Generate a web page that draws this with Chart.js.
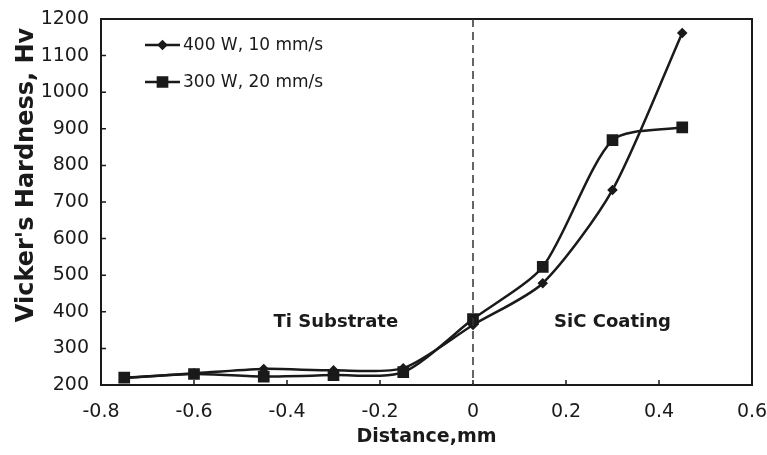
<!DOCTYPE html>
<html>
<head>
<meta charset="utf-8">
<script src="https://cdn.jsdelivr.net/npm/chart.js@4.4.1/dist/chart.umd.min.js"></script>
<style>
  html, body { margin: 0; padding: 0; background: #fff; }
  #wrap { width: 767px; height: 455px; position: relative; }
</style>
</head>
<body>
<div id="wrap"><canvas id="hardChart"></canvas></div>
<script>
const distances = [-0.75, -0.6, -0.45, -0.3, -0.15, 0, 0.15, 0.3, 0.45];
const hv400 = [219, 232, 244, 240, 246, 364, 478, 733, 1162];
const hv300 = [220, 230, 223, 227, 235, 380, 523, 869, 904];
const seriesLabels = ['400 W, 10 mm/s', '300 W, 20 mm/s'];
const regionLabels = [
  { text: 'Ti Substrate', x: -0.295, y: 322 },
  { text: 'SiC Coating', x: 0.3, y: 322 }
];
const xTicks = [-0.8, -0.6, -0.4, -0.2, 0, 0.2, 0.4, 0.6];
const yTitle = "Vicker's Hardness, Hv";

const FONT = '"DejaVu Sans", sans-serif';
const INK = '#1a1a1a';

const toPoints = (ys) => distances.map((x, i) => ({ x: x, y: ys[i] }));

// box, inner ticks, dashed line at 0, region text, y title and legend
const extras = {
  id: 'extras',
  afterDatasetsDraw(chart) {
    const { ctx, chartArea: a, scales: { x, y } } = chart;
    ctx.save();

    // frame
    ctx.strokeStyle = INK;
    ctx.lineWidth = 2;
    ctx.strokeRect(a.left, a.top, a.right - a.left, a.bottom - a.top);

    // inward ticks
    ctx.lineWidth = 1.5;
    ctx.beginPath();
    for (let v = 200; v <= 1200; v += 100) {
      const py = y.getPixelForValue(v);
      ctx.moveTo(a.left, py);
      ctx.lineTo(a.left + 5, py);
    }
    xTicks.forEach(v => {
      const px = x.getPixelForValue(v);
      ctx.moveTo(px, a.bottom);
      ctx.lineTo(px, a.bottom - 5);
    });
    ctx.stroke();

    // interface line
    const x0 = x.getPixelForValue(0);
    ctx.setLineDash([8, 5]);
    ctx.lineWidth = 1.5;
    ctx.strokeStyle = '#333';
    ctx.beginPath();
    ctx.moveTo(x0, a.top);
    ctx.lineTo(x0, a.bottom);
    ctx.stroke();
    ctx.setLineDash([]);

    // region labels
    ctx.fillStyle = INK;
    ctx.font = 'bold 18px ' + FONT;
    ctx.textAlign = 'center';
    ctx.textBaseline = 'middle';
    regionLabels.forEach(r => {
      ctx.fillText(r.text, x.getPixelForValue(r.x), r.y);
    });

    // y title, sits a bit above the middle like the original
    ctx.save();
    ctx.translate(27, 175);
    ctx.rotate(-Math.PI / 2);
    ctx.font = 'bold 24px ' + FONT;
    ctx.fillText(yTitle, 0, 0);
    ctx.restore();

    // legend
    ctx.font = '17px ' + FONT;
    ctx.textAlign = 'left';
    const rows = [45, 82];
    chart.data.datasets.forEach((ds, i) => {
      const ly = rows[i];
      ctx.strokeStyle = INK;
      ctx.lineWidth = 2.5;
      ctx.beginPath();
      ctx.moveTo(145, ly);
      ctx.lineTo(180, ly);
      ctx.stroke();
      ctx.fillStyle = INK;
      Chart.helpers.drawPoint(ctx, {
        pointStyle: ds.pointStyle,
        radius: ds.pointRadius,
        borderWidth: 1
      }, 162.5, ly);
      ctx.fillText(seriesLabels[i], 183, ly + 1);
    });

    ctx.restore();
  }
};

new Chart(document.getElementById('hardChart'), {
  type: 'line',
  data: {
    datasets: [
      {
        label: seriesLabels[0],
        data: toPoints(hv400),
        borderColor: INK,
        backgroundColor: INK,
        borderWidth: 2.5,
        pointStyle: 'rectRot',
        pointRadius: 3.5,
        tension: 0.25
      },
      {
        label: seriesLabels[1],
        data: toPoints(hv300),
        borderColor: INK,
        backgroundColor: INK,
        borderWidth: 2.5,
        pointStyle: 'rect',
        pointRadius: 6.5,
        tension: 0.25
      }
    ]
  },
  options: {
    responsive: true,
    maintainAspectRatio: false,
    animation: false,
    layout: { padding: { top: 19, right: 15, left: 0, bottom: 0 } },
    plugins: {
      legend: { display: false },
      tooltip: { enabled: false }
    },
    scales: {
      x: {
        type: 'linear',
        min: -0.8,
        max: 0.6,
        afterBuildTicks: (s) => { s.ticks = xTicks.map(v => ({ value: v })); },
        afterFit: (s) => {
          s.height = 70;
          s.paddingLeft = 0;
          s.paddingRight = 0;
        },
        grid: { display: false, drawTicks: false },
        border: { display: false },
        ticks: {
          color: INK,
          font: { family: FONT, size: 19 },
          padding: 16,
          callback: (v) => String(Number(v.toFixed(1)))
        },
        title: {
          display: true,
          text: 'Distance,mm',
          color: INK,
          font: { family: FONT, size: 19, weight: 'bold' },
          padding: { top: 4, bottom: 7 }
        }
      },
      y: {
        min: 200,
        max: 1200,
        afterFit: (s) => {
          s.width = 101;
          s.paddingTop = 0;
          s.paddingBottom = 0;
        },
        grid: { display: false, drawTicks: false },
        border: { display: false },
        ticks: {
          stepSize: 100,
          color: INK,
          font: { family: FONT, size: 19 },
          padding: 12,
          callback: (v) => String(v)
        }
      }
    }
  },
  plugins: [extras]
});
</script>
</body>
</html>
